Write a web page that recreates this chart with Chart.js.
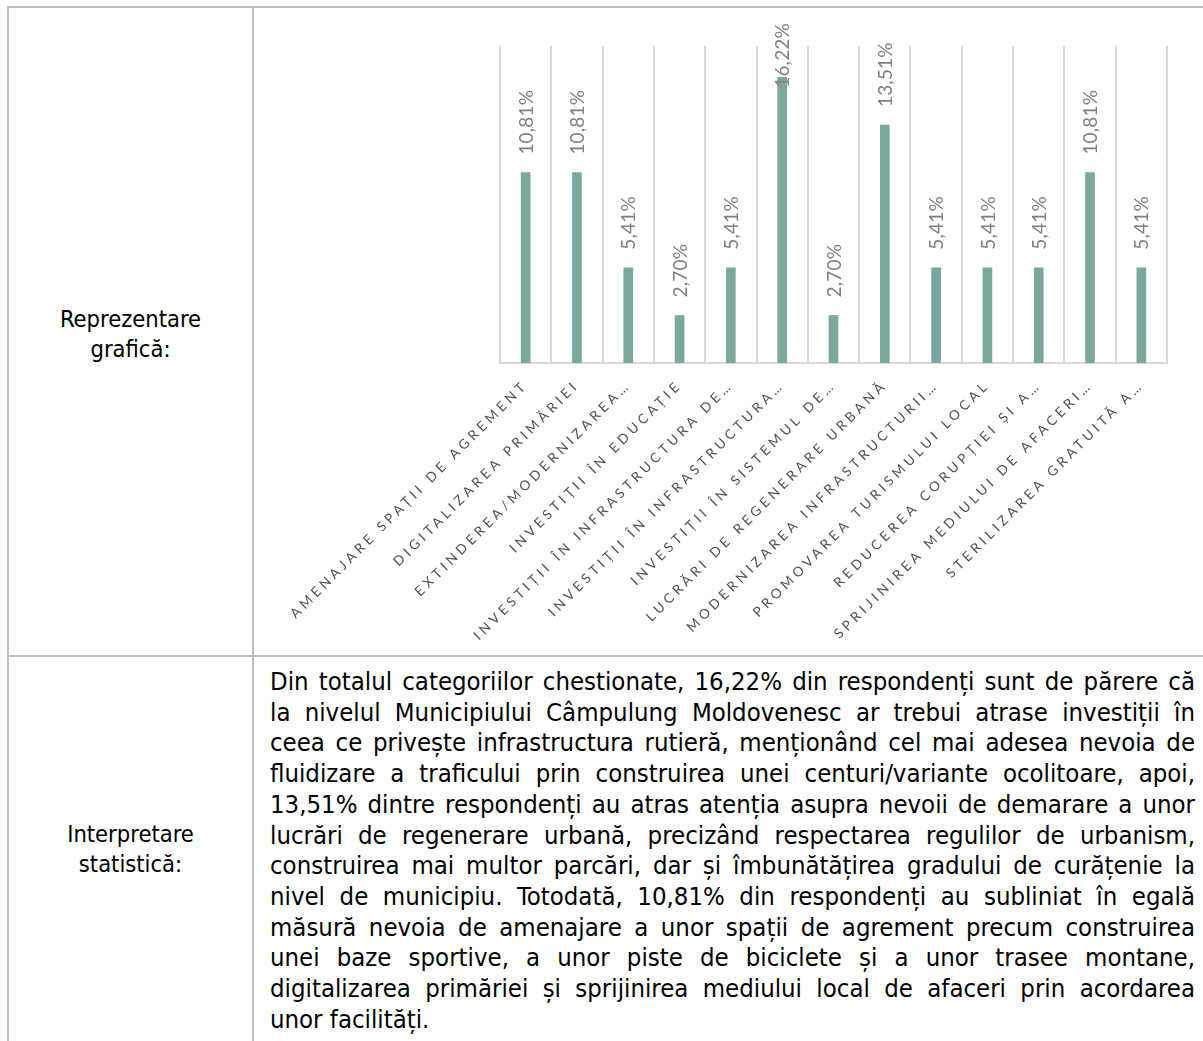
<!DOCTYPE html>
<html lang="ro">
<head>
  <meta charset="UTF-8">
  <title>Reprezentare grafică</title>
  <style>
    html, body { margin: 0; padding: 0; background: #fff; }
    body { width: 1203px; height: 1041px; position: relative; overflow: hidden;
           font-family: "DejaVu Sans Condensed", "DejaVu Sans", sans-serif; color: #000; }
    .line { position: absolute; background: #bfbfbf; }
    .label { position: absolute; left: 8px; width: 245px; text-align: center;
             font-size: 23.5px; line-height: 30px; }
    #text { position: absolute; left: 270px; top: 666px; width: 925px;
            font-size: 25.5px; line-height: 30.7px; }
    #text div { text-align: justify; text-align-last: justify; white-space: nowrap; }
    #text div:last-child { text-align-last: left; }
    #chart { position: absolute; left: 255px; top: 10px; }
  </style>
  <script src="https://cdn.jsdelivr.net/npm/chart.js"></script>
</head>
<body>
  <div class="line" style="left:7px; top:6px; width:1196px; height:2px;"></div>
  <div class="line" style="left:7px; top:6px; width:2px; height:1035px;"></div>
  <div class="line" style="left:252px; top:6px; width:2px; height:1035px;"></div>
  <div class="line" style="left:7px; top:655px; width:1196px; height:2px;"></div>

  <div class="label" style="top:304px;">Reprezentare<br>grafică:</div>
  <div class="label" style="top:819px;">Interpretare<br>statistică:</div>

  <canvas id="chart" width="945" height="640"></canvas>

  <div id="text">
    <div>Din totalul categoriilor chestionate, 16,22% din respondenți sunt de părere că</div>
    <div>la nivelul Municipiului Câmpulung Moldovenesc ar trebui atrase investiții în</div>
    <div>ceea ce privește infrastructura rutieră, menționând cel mai adesea nevoia de</div>
    <div>fluidizare a traficului prin construirea unei centuri/variante ocolitoare, apoi,</div>
    <div>13,51% dintre respondenți au atras atenția asupra nevoii de demarare a unor</div>
    <div>lucrări de regenerare urbană, precizând respectarea regulilor de urbanism,</div>
    <div>construirea mai multor parcări, dar și îmbunătățirea gradului de curățenie la</div>
    <div>nivel de municipiu. Totodată, 10,81% din respondenți au subliniat în egală</div>
    <div>măsură nevoia de amenajare a unor spații de agrement precum construirea</div>
    <div>unei baze sportive, a unor piste de biciclete și a unor trasee montane,</div>
    <div>digitalizarea primăriei și sprijinirea mediului local de afaceri prin acordarea</div>
    <div>unor facilități.</div>
  </div>

  <script>
    const categories = [
      'AMENAJARE SPAȚII DE AGREMENT',
      'DIGITALIZAREA PRIMĂRIEI',
      'EXTINDEREA/MODERNIZAREA…',
      'INVESTIȚII ÎN EDUCAȚIE',
      'INVESTIȚII ÎN INFRASTRUCTURA DE…',
      'INVESTIȚII ÎN INFRASTRUCTURA…',
      'INVESTIȚII ÎN SISTEMUL DE…',
      'LUCRĂRI DE REGENERARE URBANĂ',
      'MODERNIZAREA INFRASTRUCTURII…',
      'PROMOVAREA TURISMULUI LOCAL',
      'REDUCEREA CORUPȚIEI ȘI A…',
      'SPRIJINIREA MEDIULUI DE AFACERI…',
      'STERILIZAREA GRATUITĂ A…'
    ];
    const percents = [10.81, 10.81, 5.41, 2.70, 5.41, 16.22, 2.70, 13.51, 5.41, 5.41, 5.41, 10.81, 5.41];
    const valueLabels = percents.map(v => v.toFixed(2).replace('.', ',') + '%');

    // spaced-out category text, like the office chart style
    const spacing = {
      id: 'spacing',
      beforeLayout(chart) { chart.ctx.letterSpacing = '3.9px'; },
      beforeDraw(chart) { chart.ctx.letterSpacing = '3.9px'; }
    };

    // rotated value labels above the bars
    const barLabels = {
      id: 'barLabels',
      afterDatasetsDraw(chart) {
        const ctx = chart.ctx;
        const meta = chart.getDatasetMeta(0);
        ctx.save();
        ctx.font = '19px Lato';
        ctx.fillStyle = '#808080';
        ctx.letterSpacing = '0.2px';
        ctx.textAlign = 'left';
        ctx.textBaseline = 'middle';
        const minEnd = chart.chartArea.top - 23;
        meta.data.forEach((bar, i) => {
          const text = valueLabels[i];
          const w = ctx.measureText(text).width;
          let start = bar.y - 18;
          if (start - w < minEnd) start = minEnd + w;
          ctx.save();
          ctx.translate(bar.x + 1, start);
          ctx.rotate(-Math.PI / 2);
          ctx.fillText(text, 0, 0);
          ctx.restore();
        });
        ctx.restore();
      }
    };

    new Chart(document.getElementById('chart').getContext('2d'), {
      type: 'bar',
      data: {
        labels: categories,
        datasets: [{
          data: percents,
          backgroundColor: '#7ba89e',
          barThickness: 9
        }]
      },
      options: {
        responsive: false,
        animation: false,
        devicePixelRatio: 1,
        layout: { padding: { left: 245, right: 33, top: 36, bottom: 0 } },
        plugins: { legend: { display: false }, tooltip: { enabled: false } },
        scales: {
          x: {
            afterFit(scale) { scale.height = 287; },
            grid: { color: '#d9d9d9', lineWidth: 2, drawTicks: false, offset: true },
            border: { color: '#d9d9d9', width: 2 },
            ticks: {
              autoSkip: false,
              minRotation: 45,
              maxRotation: 45,
              padding: 14,
              color: '#505050',
              font: { family: 'Lato', size: 13.5 }
            }
          },
          y: { display: false, min: 0, max: 18 }
        }
      },
      plugins: [spacing, barLabels]
    });
  </script>
</body>
</html>
